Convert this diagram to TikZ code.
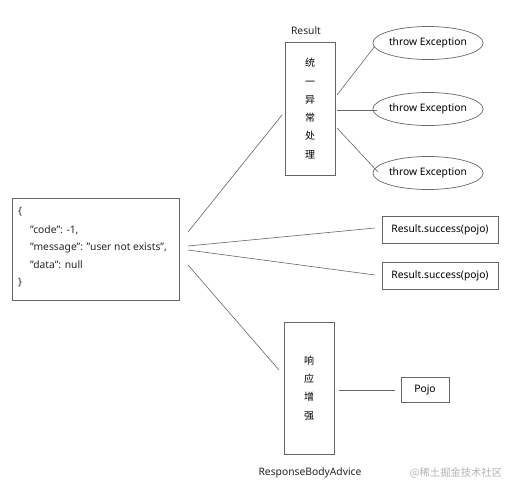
\documentclass[tikz,border=0pt]{standalone}
\usepackage{fontspec}
\setmainfont{Noto Sans}
\newfontfamily\cjk{Noto Sans CJK SC}
\usetikzlibrary{shapes.geometric}
\begin{document}
\begin{tikzpicture}[x=1pt,y=-1pt,
  txt/.style={font=\fontsize{10.3}{12}\selectfont, inner sep=0pt, text=black!85},
  box/.style={draw=black!60, line width=0.7pt, inner sep=0pt},
  oval/.style={draw=black!60, line width=0.7pt, ellipse, minimum width=101pt, minimum height=33pt, inner sep=0pt, font=\fontsize{10.3}{12}\selectfont},
  link/.style={draw=black!60, line width=0.6pt},
  vert/.style={box, minimum width=50pt, align=center, font=\cjk\fontsize{10}{18.3}\selectfont}]
\useasboundingbox[fill=white] (0,0) rectangle (519,493);
% JSON box
\node[box, minimum width=167pt, minimum height=102pt] (json) at (95.5,249) {};
\node[txt, anchor=west] (l1) at (18,212) {\{};
\node[txt, anchor=west] (l2) at (30,230) {"code": -1,};
\node[txt, anchor=west] (l3) at (30,248) {"message": "user not exists",};
\node[txt, anchor=west] (l4) at (30,265) {"data": null};
\node[txt, anchor=west] (l5) at (18,283) {\}};
% Result box
\node[vert, minimum height=133pt] (res) at (310,108.5) {统\\一\\异\\常\\处\\理};
\node[txt] (reslbl) at (306,31) {Result};
% ellipses
\node[oval] (e1) at (428,43) {throw Exception};
\node[oval] (e2) at (428,109) {throw Exception};
\node[oval] (e3) at (428,173) {throw Exception};
% success boxes
\node[box, minimum width=116pt, minimum height=27pt, font=\fontsize{10.3}{12}\selectfont] (s1) at (440,229.5) {Result.success(pojo)};
\node[box, minimum width=116pt, minimum height=27pt, font=\fontsize{10.3}{12}\selectfont] (s2) at (440,275.5) {Result.success(pojo)};
% response box
\node[vert, minimum height=132pt] (rsp) at (309,388) {响\\应\\增\\强};
\node[txt] (rsplbl) at (310,473) {ResponseBodyAdvice};
\node[box, minimum width=48pt, minimum height=25pt, font=\fontsize{10.3}{12}\selectfont] (pojo) at (425,389.5) {Pojo};
% watermark
\node[txt, text=black!30, font=\cjk\fontsize{10.3}{12}\selectfont] (wm) at (456,473) {@稀土掘金技术社区};
% connectors
\coordinate (j1) at (188,232);
\coordinate (j2) at (188,246);
\coordinate (j3) at (188,265);
\draw[link] (j1) -- (282,115);
\draw[link] (j2) -- (375,228);
\draw[link] (j2) ++(0,4) -- (375,275);
\draw[link] (j3) -- (279,370);
\draw[link] (337,95) -- (375,46);
\draw[link] (337,110) -- (377,110);
\draw[link] (337,128) -- (378,172);
\draw[link] (339,390) -- (395,390);
\end{tikzpicture}
\end{document}
